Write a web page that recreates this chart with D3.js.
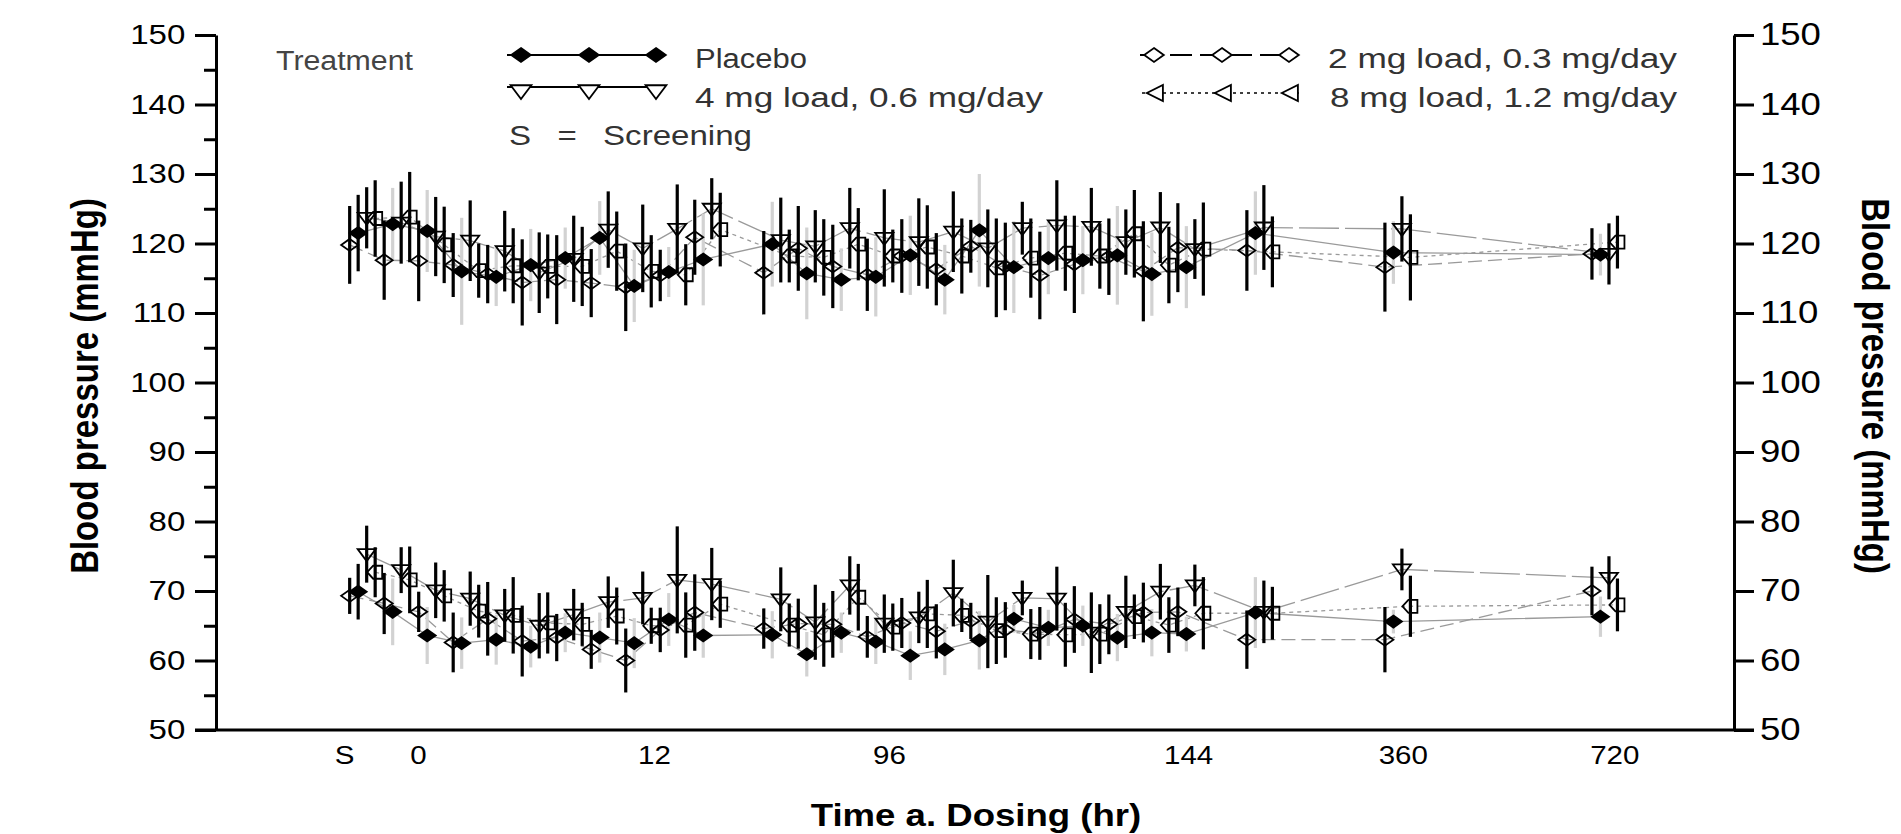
<!DOCTYPE html>
<html>
<head>
<meta charset="utf-8">
<script src="https://cdn.jsdelivr.net/npm/d3@7"></script>
<style>
    body { margin: 0; background: #fff; }
    svg { display: block; }
    text { font-family: "Liberation Sans", Arial, sans-serif; }
</style>
</head>
<body>
<div id="chart"></div>
<script>
// time points sit on a broken hour axis, so they are placed by slot index
const slots = [0,1,2,3,4,5,6,7,8,9,10,12,13,14,15,16,17,18,19,20,21,22,23,24,26,30,36];
const tickLabels = ["S","0","12","96","144","360","720"];
const tickSlots = [-0.41,1.73,8.57,15.38,24.05,30.27,36.4];
const yTicks = [50,60,70,80,90,100,110,120,130,140,150];
const yMinorTicks = [55,65,75,85,95,105,115,125,135,145];

// systolic (upper band), mean and SD
const sysPlacebo = [121.5,122.8,121.8,116.0,115.2,116.9,117.9,120.8,113.9,115.9,117.7,119.9,115.7,114.8,115.2,118.3,114.8,121.9,116.6,117.9,117.6,118.3,115.6,116.6,121.5,118.7,118.4];
const sysPlaceboSd = [5.5,5.2,5.9,7.7,4.2,5.2,4.4,5.3,5.2,3.6,6.6,6.1,6.6,4.5,5.7,5.7,5.0,8.1,6.6,5.2,4.9,7.1,6.0,5.9,6.0,4.5,3.0];
const sys2mg = [119.8,117.6,117.5,116.9,115.6,114.4,114.8,114.3,113.7,115.4,120.9,115.8,119.3,116.7,115.5,118.2,116.3,119.6,116.7,115.4,117.0,118.1,116.0,119.4,119.0,116.6,118.5];
const sys2mgSd = [5.6,5.7,5.8,4.6,4.2,6.2,6.4,4.9,6.3,3.7,5.4,6.0,6.1,6.0,5.2,5.3,5.2,3.8,6.3,6.3,7.0,5.5,7.2,6.4,5.8,6.4,3.7];
const sys4mg = [123.7,123.0,121.0,120.4,118.9,115.8,117.8,122.0,119.3,122.1,125.0,120.5,119.6,122.2,120.8,120.2,121.7,119.3,122.2,122.6,122.4,120.2,122.3,119.2,122.3,122.1,118.5];
const sys4mgSd = [4.4,5.9,5.7,5.8,5.8,5.8,6.2,5.5,6.3,6.4,4.4,6.1,5.2,5.8,7.0,6.3,5.8,5.6,3.8,6.5,5.6,4.7,5.1,4.3,6.1,4.7,4.4];
const sys8mg = [123.6,123.8,119.8,116.1,116.8,116.7,116.7,118.9,116.0,115.5,122.0,118.2,118.0,119.9,118.2,119.5,118.2,116.5,117.9,118.6,118.2,121.4,116.9,119.2,118.8,118.0,120.2];
const sys8mgSd = [5.5,6.5,5.5,3.9,5.4,4.6,5.7,5.7,5.2,4.4,5.3,3.8,5.5,5.2,3.8,6.0,5.4,7.1,5.7,5.4,4.7,6.3,5.5,6.7,5.1,6.2,3.8];

// diastolic (lower band), mean and SD
const diaPlacebo = [69.9,67.0,63.6,62.5,63.0,62.0,64.0,63.3,62.5,65.9,63.6,63.7,60.9,64.0,62.7,60.7,61.6,62.9,66.0,64.7,65.0,63.3,64.0,63.8,66.9,65.6,66.3];
const diaPlaceboSd = [4.0,4.8,4.1,3.7,3.6,3.0,2.8,3.6,3.6,3.8,3.2,3.4,3.2,2.9,3.2,3.5,3.7,4.2,2.0,2.6,2.9,3.4,3.4,2.5,5.1,1.7,2.9];
const dia2mg = [69.3,68.2,67.0,62.6,66.0,62.8,63.3,61.6,60.0,64.4,66.9,64.6,65.3,65.2,63.4,65.4,64.2,65.7,64.4,63.9,65.9,65.2,66.9,67.0,63.0,63.0,70.0];
const dia2mgSd = [2.6,4.4,2.9,4.3,5.3,5.1,3.4,2.8,4.6,3.2,5.5,2.9,3.6,4.8,3.0,3.6,3.9,2.6,4.0,3.8,4.8,4.3,4.3,3.5,4.2,4.7,3.5];
const dia4mg = [75.3,73.0,70.1,68.9,66.5,65.0,66.6,68.4,69.0,71.6,71.0,68.8,65.5,70.8,65.3,66.2,69.7,65.6,69.0,68.9,64.0,67.0,69.9,70.8,67.0,73.1,71.9];
const dia4mgSd = [4.1,3.3,4.0,3.9,3.8,4.7,3.7,3.7,3.8,7.7,5.2,4.6,5.4,4.2,4.2,3.7,4.8,6.7,2.5,4.6,5.8,5.2,4.0,3.0,4.5,3.0,3.1];
const dia8mg = [72.7,71.6,69.3,67.1,66.5,65.4,65.2,66.4,65.0,65.1,68.1,65.1,63.7,69.1,64.8,66.7,66.5,64.3,63.8,63.7,63.8,66.3,65.1,66.8,66.8,67.8,68.0];
const dia8mgSd = [3.6,4.8,3.7,3.8,5.5,4.4,3.1,4.1,2.6,4.7,3.4,3.1,4.6,4.8,3.4,4.9,2.4,4.8,3.6,4.6,4.3,3.2,4.0,5.2,3.8,4.4,3.8];

var dimension = {
    width: 1901,
    height: 834,
    left: 216,
    right: 1734,
    top: 35,
    bottom: 730,
    dodge: 8.5,
    stretch: 1.18
}

const shapes = {
    diamond: "M0,-6L8.5,0L0,6L-8.5,0Z",
    triDown: "M-9,-5L9,-5L0,7Z",
    tagLeft: "M-8,0L-2,-6.5L7,-6.5L7,6.5L-2,6.5Z",
    triLeft: "M-8,0L6,-7L6,7Z"
}

const groups = [
    {label: "Placebo", sys: sysPlacebo, sysSd: sysPlaceboSd, dia: diaPlacebo, diaSd: diaPlaceboSd,
     shift: 0, shape: "diamond", legendShape: "diamond", fill: "#000", dash: null, legendDash: null, bar: "#d2d2d2"},
    {label: "2 mg load, 0.3 mg/day", sys: sys2mg, sysSd: sys2mgSd, dia: dia2mg, diaSd: dia2mgSd,
     shift: -1, shape: "diamond", legendShape: "diamond", fill: "none", dash: "14,6", legendDash: "22,8", bar: "#000"},
    {label: "4 mg load, 0.6 mg/day", sys: sys4mg, sysSd: sys4mgSd, dia: dia4mg, diaSd: dia4mgSd,
     shift: 1, shape: "triDown", legendShape: "triDown", fill: "none", dash: "40,6", legendDash: "72,10", bar: "#000"},
    {label: "8 mg load, 1.2 mg/day", sys: sys8mg, sysSd: sys8mgSd, dia: dia8mg, diaSd: dia8mgSd,
     shift: 2, shape: "tagLeft", legendShape: "triLeft", fill: "none", dash: "4,4", legendDash: "3,4", bar: "#000"}
];

const svg = d3.select("#chart").append("svg")
    .attr("width", dimension.width)
    .attr("height", dimension.height);

const xScaler = d3.scaleLinear()
    .domain([-4.12, 39.87])
    .range([dimension.left, dimension.right]);

const yScaler = d3.scaleLinear()
    .domain([50, 150])
    .range([dimension.bottom, dimension.top]);

// one record per marker
let points = [];
groups.forEach((g) => {
    ["sys", "dia"].forEach((band) => {
        slots.forEach((s, i) => {
            points.push({group: g, band: band, i: i, slot: s, v: g[band][i], sd: g[band + "Sd"][i]});
        });
    });
});
var px = (d) => xScaler(d.slot) + d.group.shift * dimension.dodge;

// connecting lines
const lineGenerator = d3.line()
    .x(px)
    .y((d) => yScaler(d.v));

const plot = svg.append("g");
groups.forEach((g) => {
    ["sys", "dia"].forEach((band) => {
        plot.append("path")
            .datum(points.filter((d) => d.group === g && d.band === band))
            .attr("d", lineGenerator)
            .attr("fill", "none")
            .attr("stroke", "#9a9a9a")
            .attr("stroke-width", 1.3)
            .attr("stroke-dasharray", g.dash);
    });
});

// error bars, light ones first
const barColor = (d) => (d.group.label === "Placebo" && d.i > 0) ? d.group.bar : "#000";
const sortedBars = points.slice().sort((a, b) => (barColor(a) === "#000") - (barColor(b) === "#000"));
plot.selectAll("line.err")
    .data(sortedBars)
    .join("line")
    .attr("class", "err")
    .attr("x1", px)
    .attr("x2", px)
    .attr("y1", (d) => yScaler(d.v - d.sd))
    .attr("y2", (d) => yScaler(d.v + d.sd))
    .attr("stroke", barColor)
    .attr("stroke-width", 3.2);

// markers
plot.selectAll("path.mark")
    .data(points)
    .join("path")
    .attr("class", "mark")
    .attr("d", (d) => shapes[d.group.shape])
    .attr("transform", (d) => `translate(${px(d)},${yScaler(d.v)})`)
    .attr("fill", (d) => d.group.fill)
    .attr("stroke", "#000")
    .attr("stroke-width", 1.8);

// left axis
const yAxisLeft = svg.append("g")
    .attr("transform", `translate(${dimension.left},0)`)
    .call(d3.axisLeft(yScaler).tickValues(yTicks).tickSize(21).tickSizeOuter(0).tickPadding(5));
yAxisLeft.selectAll("text")
    .attr("font-size", 28)
    .attr("font-family", "Liberation Sans, Arial, sans-serif")
    .attr("fill", "#000")
    .attr("transform", `scale(${dimension.stretch},1)`);

const yMinorLeft = svg.append("g")
    .attr("transform", `translate(${dimension.left},0)`)
    .call(d3.axisLeft(yScaler).tickValues(yMinorTicks).tickSize(12).tickFormat(""));
yMinorLeft.select(".domain").remove();

// right axis
const yAxisRight = svg.append("g")
    .attr("transform", `translate(${dimension.right},0)`)
    .call(d3.axisRight(yScaler).tickValues(yTicks).tickSize(20).tickSizeOuter(0).tickPadding(2));
yAxisRight.selectAll("text")
    .attr("font-size", 31)
    .attr("font-family", "Liberation Sans, Arial, sans-serif")
    .attr("fill", "#000")
    .attr("transform", `scale(${dimension.stretch},1)`);

// bottom axis: labels only, the line runs between the outer tick ends
const xAxis = svg.append("g")
    .attr("transform", `translate(0,${dimension.bottom})`)
    .call(d3.axisBottom(xScaler).tickValues(tickSlots).tickFormat((d, i) => tickLabels[i]).tickSize(0).tickPadding(16));
xAxis.select(".domain").remove();
xAxis.selectAll("text")
    .attr("font-size", 25)
    .attr("font-family", "Liberation Sans, Arial, sans-serif")
    .attr("fill", "#000")
    .attr("transform", `scale(${dimension.stretch},1)`);

svg.append("line")
    .attr("x1", dimension.left - 21)
    .attr("x2", dimension.right + 20)
    .attr("y1", dimension.bottom)
    .attr("y2", dimension.bottom)
    .attr("stroke", "#000")
    .attr("stroke-width", 3);

svg.selectAll(".domain, .tick line")
    .attr("stroke", "#000")
    .attr("stroke-width", 3);

// axis titles
svg.append("text")
    .attr("transform", `translate(98,386) scale(${dimension.stretch},1) rotate(-90)`)
    .attr("text-anchor", "middle")
    .attr("font-size", 33)
    .attr("font-weight", "bold")
    .text("Blood pressure (mmHg)");

svg.append("text")
    .attr("transform", `translate(1862,386) scale(${dimension.stretch},1) rotate(90)`)
    .attr("text-anchor", "middle")
    .attr("font-size", 33)
    .attr("font-weight", "bold")
    .text("Blood pressure (mmHg)");

svg.append("text")
    .attr("transform", `translate(976,826) scale(${dimension.stretch},1)`)
    .attr("text-anchor", "middle")
    .attr("font-size", 31)
    .attr("font-weight", "bold")
    .text("Time a. Dosing (hr)");

// legend
const legend = svg.append("g");
const legendItems = [
    {g: groups[0], x: 507, y: 55, ty: 68, w: 112},
    {g: groups[2], x: 507, y: 87, ty: 107, w: 348, my: 4},
    {g: groups[1], x: 1140, y: 55, ty: 68, w: 349},
    {g: groups[3], x: 1142, y: 93, ty: 107, w: 347}
];
legendItems.forEach((it) => {
    legend.append("line")
        .attr("x1", it.x).attr("x2", it.x + 157)
        .attr("y1", it.y).attr("y2", it.y)
        .attr("stroke", "#000")
        .attr("stroke-width", it.g.legendDash === "3,4" ? 1.5 : 2)
        .attr("stroke-dasharray", it.g.legendDash);
    [14, 82, 149].forEach((o) => {
        legend.append("path")
            .attr("d", shapes[it.g.legendShape])
            .attr("transform", `translate(${it.x + o},${it.y + (it.my || 0)}) scale(1.15)`)
            .attr("fill", it.g.fill === "none" ? "#fff" : it.g.fill)
            .attr("stroke", "#000")
            .attr("stroke-width", 1.6);
    });
    legend.append("text")
        .attr("x", it.x + 188)
        .attr("y", it.ty)
        .attr("font-size", 27)
        .attr("fill", "#333")
        .attr("textLength", it.w)
        .attr("lengthAdjust", "spacingAndGlyphs")
        .text(it.g.label);
});

legend.append("text")
    .attr("x", 276).attr("y", 70)
    .attr("font-size", 27)
    .attr("fill", "#444")
    .attr("textLength", 137)
    .attr("lengthAdjust", "spacingAndGlyphs")
    .text("Treatment");

legend.append("text")
    .attr("x", 509).attr("y", 145)
    .attr("font-size", 27)
    .attr("fill", "#333")
    .attr("word-spacing", 14)
    .attr("textLength", 243)
    .attr("lengthAdjust", "spacingAndGlyphs")
    .text("S = Screening");
</script>
</body>
</html>
